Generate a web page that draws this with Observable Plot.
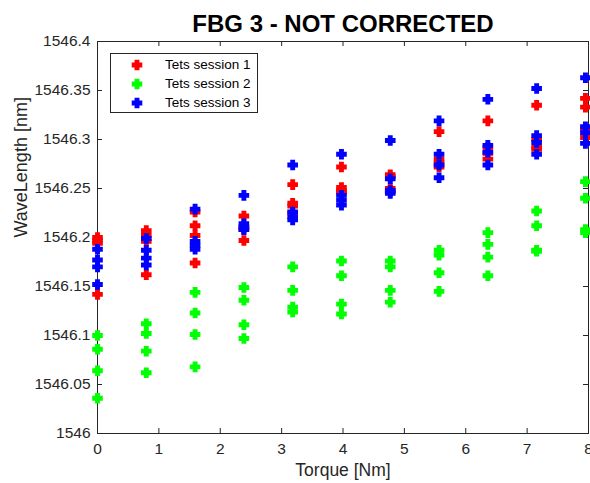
<!DOCTYPE html>
<html><head><meta charset="utf-8">
<script src="https://cdn.jsdelivr.net/npm/d3@7"></script>
<script src="https://cdn.jsdelivr.net/npm/@observablehq/plot@0.6"></script>
<style>
body{margin:0;background:#fff;}
#wrap{position:relative;width:590px;height:483px;font-family:Arial,"Liberation Sans",Helvetica,sans-serif;}
#legend{position:absolute;left:110px;top:53px;width:146px;height:58px;border:1px solid #262626;background:#fff;}
.row{position:absolute;left:0;height:19px;width:146px;}
.row svg{position:absolute;left:20px;top:3px;}
.row span{position:absolute;left:54px;top:1px;font-size:13.5px;color:#000;white-space:nowrap;}
</style></head><body><div id="wrap"></div>
<script>
const titleText = "FBG 3 - NOT CORRECTED";
const xLabel = "Torque [Nm]";
const yLabel = "WaveLength [nm]";
const sessionNames = ["Tets session 1", "Tets session 2", "Tets session 3"];
const sessionColors = ["#ff0000", "#00ff00", "#0000ff"];
const xTicks = [0, 1, 2, 3, 4, 5, 6, 7, 8];
const yTicks = [1546, 1546.05, 1546.1, 1546.15, 1546.2, 1546.25, 1546.3, 1546.35, 1546.4];
const torque = [0, 0.795, 1.59, 2.385, 3.18, 3.975, 4.77, 5.565, 6.36, 7.155, 7.95];
const session1 = [
  [1546.200, 1546.197, 1546.194, 1546.142],
  [1546.207, 1546.202, 1546.196, 1546.162],
  [1546.226, 1546.212, 1546.202, 1546.174],
  [1546.222, 1546.211, 1546.208, 1546.197],
  [1546.254, 1546.235, 1546.232, 1546.225],
  [1546.272, 1546.251, 1546.248, 1546.246],
  [1546.264, 1546.262, 1546.250, 1546.247],
  [1546.308, 1546.280, 1546.276, 1546.272],
  [1546.319, 1546.292, 1546.286, 1546.280],
  [1546.335, 1546.300, 1546.292, 1546.290],
  [1546.342, 1546.333, 1546.310, 1546.302]
];
const session2 = [
  [1546.100, 1546.086, 1546.064, 1546.036],
  [1546.112, 1546.102, 1546.084, 1546.062],
  [1546.144, 1546.123, 1546.101, 1546.068],
  [1546.149, 1546.136, 1546.111, 1546.097],
  [1546.170, 1546.146, 1546.129, 1546.124],
  [1546.176, 1546.161, 1546.132, 1546.122],
  [1546.176, 1546.170, 1546.146, 1546.134],
  [1546.187, 1546.182, 1546.164, 1546.145],
  [1546.205, 1546.193, 1546.180, 1546.161],
  [1546.227, 1546.212, 1546.187, 1546.186],
  [1546.257, 1546.240, 1546.208, 1546.205]
];
const session3 = [
  [1546.188, 1546.177, 1546.170, 1546.152],
  [1546.199, 1546.187, 1546.179, 1546.172],
  [1546.229, 1546.196, 1546.192, 1546.188],
  [1546.243, 1546.214, 1546.210, 1546.208],
  [1546.274, 1546.226, 1546.221, 1546.218],
  [1546.285, 1546.243, 1546.238, 1546.233],
  [1546.299, 1546.260, 1546.248, 1546.245],
  [1546.319, 1546.285, 1546.274, 1546.261],
  [1546.341, 1546.294, 1546.287, 1546.274],
  [1546.352, 1546.304, 1546.297, 1546.285],
  [1546.363, 1546.313, 1546.307, 1546.296]
];

const sessions = [session1, session2, session3];
const rows = [];
sessions.forEach((s, si) => s.forEach((vals, ti) => vals.forEach(v =>
  rows.push({session: sessionNames[si], torque: torque[ti], wavelength: v}))));

const plusSymbol = {
  draw(ctx, size) {
    const s = Math.sqrt(size / Math.PI);
    const t = s * 0.46;
    ctx.moveTo(-t, -s); ctx.lineTo(t, -s); ctx.lineTo(t, -t); ctx.lineTo(s, -t);
    ctx.lineTo(s, t); ctx.lineTo(t, t); ctx.lineTo(t, s); ctx.lineTo(-t, s);
    ctx.lineTo(-t, t); ctx.lineTo(-s, t); ctx.lineTo(-s, -t); ctx.lineTo(-t, -t);
    ctx.closePath();
  }
};

const W = 590, H = 483, mL = 97, mR = 2, mT = 41, mB = 50;
const fw = W - mL - mR, fh = H - mT - mB;
const fmt = d => String(+d.toFixed(2));
const axisColor = "#262626";

const chart = Plot.plot({
  width: W, height: H,
  marginLeft: mL, marginRight: mR, marginTop: mT, marginBottom: mB,
  x: {domain: [0, 8]},
  y: {domain: [1546, 1546.4]},
  color: {domain: sessionNames, range: sessionColors},
  style: {fontFamily: 'Arial, "Liberation Sans", Helvetica, sans-serif', color: axisColor, background: "white", overflow: "visible"},
  marks: [
    Plot.axisX(xTicks, {tickSize: 0, tickPadding: 9, fontSize: 15.5, label: null, tickFormat: d => String(d)}),
    Plot.axisY(yTicks, {tickSize: 0, tickPadding: 7, fontSize: 15.5, label: null, tickFormat: fmt}),
    Plot.tickX(xTicks, {x: d => d, stroke: axisColor, insetTop: fh - 5}),
    Plot.tickX(xTicks, {x: d => d, stroke: axisColor, insetBottom: fh - 5}),
    Plot.tickY(yTicks, {y: d => d, stroke: axisColor, insetRight: fw - 5}),
    Plot.tickY(yTicks, {y: d => d, stroke: axisColor, insetLeft: fw - 5}),
    Plot.frame({stroke: axisColor}),
    Plot.dot(rows, {x: "torque", y: "wavelength", fill: "session", symbol: plusSymbol, r: 5.3}),
    Plot.text([titleText], {frameAnchor: "top", dy: -17, fontSize: 24, fontWeight: "bold", lineAnchor: "middle", fill: "black"}),
    Plot.text([xLabel], {frameAnchor: "bottom", dy: 37, fontSize: 17.5, lineAnchor: "middle", fill: axisColor}),
    Plot.text([yLabel], {frameAnchor: "left", dx: -76, rotate: -90, fontSize: 18, lineAnchor: "middle", fill: axisColor})
  ]
});
const wrap = document.getElementById("wrap");
wrap.appendChild(chart);

const legend = document.createElement("div");
legend.id = "legend";
sessionNames.forEach((name, i) => {
  const row = document.createElement("div");
  row.className = "row";
  row.style.top = (2 + i * 19) + "px";
  const svg = d3.create("svg").attr("width", 12).attr("height", 12);
  svg.append("path").attr("transform", "translate(6,6)")
    .attr("d", d3.symbol(plusSymbol, Math.PI * 28)())
    .attr("fill", sessionColors[i]);
  row.appendChild(svg.node());
  const span = document.createElement("span");
  span.textContent = name;
  row.appendChild(span);
  legend.appendChild(row);
});
wrap.appendChild(legend);
</script>
</body></html>
